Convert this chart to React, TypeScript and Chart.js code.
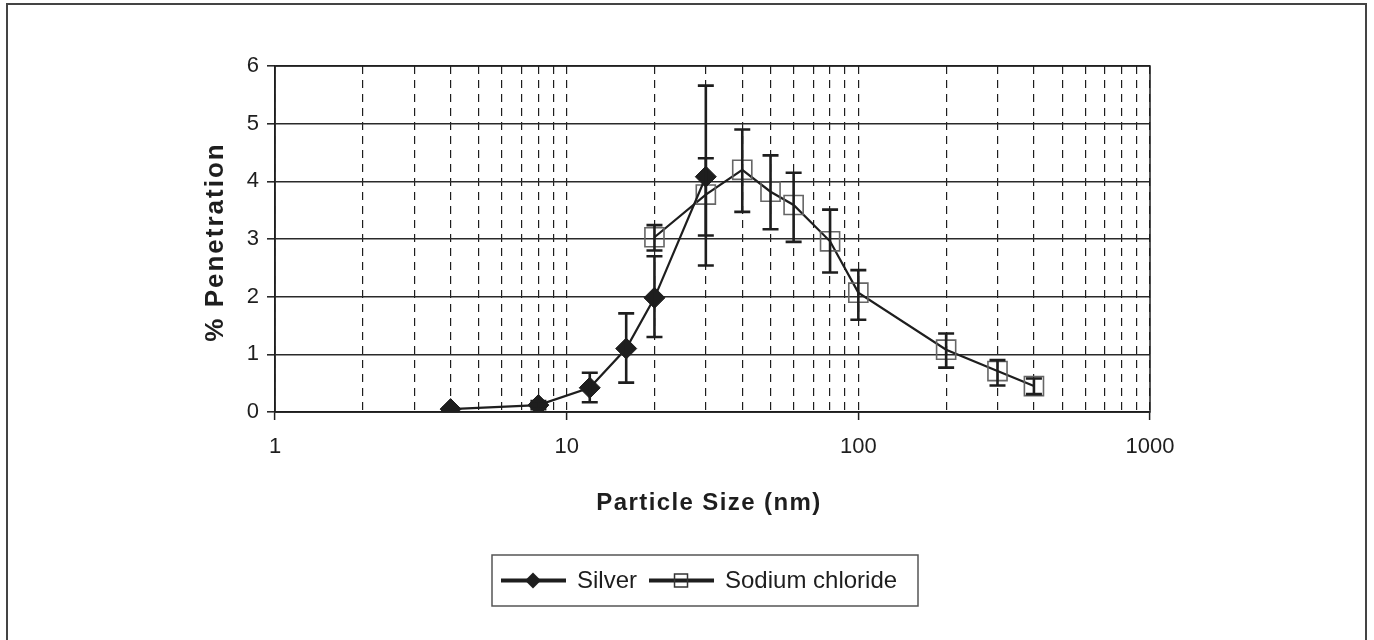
import React, { useEffect, useRef } from "react";
import { Chart, registerables } from "chart.js";

Chart.register(...registerables);

// ---- Data ----
const silverSize = [4, 8, 12, 16, 20, 30];
const silverPen = [0.05, 0.12, 0.42, 1.1, 1.98, 4.08];
const silverLow = [0.02, 0.05, 0.17, 0.51, 1.3, 2.54];
const silverHigh = [0.08, 0.19, 0.68, 1.71, 2.7, 5.66];

const naclSize = [20, 30, 40, 50, 60, 80, 100, 200, 300, 400];
const naclPen = [3.03, 3.77, 4.2, 3.82, 3.59, 2.96, 2.07, 1.08, 0.71, 0.45];
const naclLow = [2.8, 3.06, 3.47, 3.17, 2.95, 2.42, 1.6, 0.77, 0.46, 0.31];
const naclHigh = [3.24, 4.4, 4.9, 4.45, 4.15, 3.51, 2.46, 1.36, 0.9, 0.58];

const xMajorTicks = [1, 10, 100, 1000];
const xGridTicks = [
  1, 2, 3, 4, 5, 6, 7, 8, 9, 10, 20, 30, 40, 50, 60, 70, 80, 90, 100, 200,
  300, 400, 500, 600, 700, 800, 900, 1000,
];
const yTicks = [0, 1, 2, 3, 4, 5, 6];
const seriesLabels = ["Silver", "Sodium chloride"];
const xTitle = "Particle Size (nm)";
const yTitle = "% Penetration";

const errLow = [silverLow, naclLow];
const errHigh = [silverHigh, naclHigh];

const W = 1374;
const H = 640;
const FONT = "'Liberation Sans', Arial, Helvetica, sans-serif";
const INK = "#1e1e1e";

const framePlugin = {
  id: "frame",
  beforeDraw(chart: any) {
    const ctx = chart.ctx;
    ctx.save();
    ctx.fillStyle = "#ffffff";
    ctx.fillRect(0, 0, chart.width, chart.height);
    ctx.strokeStyle = "#444";
    ctx.lineWidth = 2;
    ctx.strokeRect(7, 4, 1359, 700);
    ctx.restore();
  },
  beforeDatasetsDraw(chart: any) {
    const { ctx, chartArea } = chart;
    ctx.save();
    ctx.strokeStyle = INK;
    ctx.lineWidth = 1.5;
    ctx.strokeRect(
      chartArea.left,
      chartArea.top,
      chartArea.right - chartArea.left,
      chartArea.bottom - chartArea.top
    );
    ctx.restore();
  },
};

const errorBarPlugin = {
  id: "errorBars",
  afterDatasetsDraw(chart: any) {
    const ctx = chart.ctx;
    const xs = chart.scales.x;
    const ys = chart.scales.y;
    ctx.save();
    ctx.strokeStyle = INK;
    ctx.lineWidth = 2.6;
    const cap = 8;
    chart.data.datasets.forEach((ds: any, di: number) => {
      ds.data.forEach((pt: any, i: number) => {
        const px = xs.getPixelForValue(pt.x);
        const y1 = ys.getPixelForValue(errLow[di][i]);
        const y2 = ys.getPixelForValue(errHigh[di][i]);
        ctx.beginPath();
        ctx.moveTo(px, y1);
        ctx.lineTo(px, y2);
        ctx.moveTo(px - cap, y1);
        ctx.lineTo(px + cap, y1);
        ctx.moveTo(px - cap, y2);
        ctx.lineTo(px + cap, y2);
        ctx.stroke();
      });
    });
    ctx.restore();
  },
};

const titlesPlugin = {
  id: "axisTitles",
  afterDraw(chart: any) {
    const { ctx } = chart;
    ctx.save();
    ctx.fillStyle = INK;
    ctx.textAlign = "center";
    ctx.textBaseline = "alphabetic";
    ctx.font = `bold 24px ${FONT}`;
    (ctx as any).letterSpacing = "1.4px";
    ctx.fillText(xTitle, 709, 510);
    ctx.translate(223, 242);
    ctx.rotate(-Math.PI / 2);
    ctx.font = `bold 26px ${FONT}`;
    (ctx as any).letterSpacing = "2px";
    ctx.fillText(yTitle, 0, 0);
    ctx.restore();
  },
};

const legendPlugin = {
  id: "customLegend",
  afterDraw(chart: any) {
    const ctx = chart.ctx;
    const left = 492;
    const top = 555;
    const w = 426;
    const h = 51;
    const cy = top + h / 2;
    ctx.save();
    ctx.strokeStyle = "#555";
    ctx.lineWidth = 1.5;
    ctx.strokeRect(left, top, w, h);
    ctx.font = `24px ${FONT}`;
    ctx.fillStyle = INK;
    ctx.textBaseline = "middle";
    ctx.textAlign = "left";
    let x = left + 9;
    chart.data.datasets.forEach((ds: any, di: number) => {
      ctx.strokeStyle = INK;
      ctx.lineWidth = 4;
      ctx.beginPath();
      ctx.moveTo(x, cy);
      ctx.lineTo(x + 65, cy);
      ctx.stroke();
      const mx = x + 32;
      if (di === 0) {
        ctx.fillStyle = INK;
        ctx.beginPath();
        ctx.moveTo(mx, cy - 8);
        ctx.lineTo(mx + 8, cy);
        ctx.lineTo(mx, cy + 8);
        ctx.lineTo(mx - 8, cy);
        ctx.closePath();
        ctx.fill();
      } else {
        ctx.strokeStyle = "#333";
        ctx.lineWidth = 1.5;
        ctx.strokeRect(mx - 6.5, cy - 6.5, 13, 13);
      }
      x += 65 + 11;
      ctx.fillStyle = INK;
      ctx.fillText(ds.label, x, cy + 1);
      x += ctx.measureText(ds.label).width + 12;
    });
    ctx.restore();
  },
};

export default function App() {
  const canvasRef = useRef<HTMLCanvasElement | null>(null);

  useEffect(() => {
    const canvas = canvasRef.current;
    if (!canvas) return;
    const chart = new Chart(canvas, {
      type: "scatter",
      data: {
        datasets: [
          {
            label: seriesLabels[0],
            data: silverSize.map((x, i) => ({ x, y: silverPen[i] })),
            showLine: true,
            borderColor: INK,
            borderWidth: 2.2,
            tension: 0,
            pointStyle: "rectRot",
            pointRadius: 10.5,
            pointBackgroundColor: INK,
            pointBorderColor: INK,
            pointBorderWidth: 1,
          },
          {
            label: seriesLabels[1],
            data: naclSize.map((x, i) => ({ x, y: naclPen[i] })),
            showLine: true,
            borderColor: INK,
            borderWidth: 2.2,
            tension: 0,
            pointStyle: "rect",
            pointRadius: 13.5,
            pointBackgroundColor: "rgba(0,0,0,0)",
            pointBorderColor: "#666",
            pointBorderWidth: 1.6,
          },
        ],
      },
      options: {
        responsive: false,
        animation: false,
        events: [],
        layout: { padding: { left: 0, right: 224, top: 66, bottom: 168 } },
        plugins: {
          legend: { display: false },
          tooltip: { enabled: false },
        },
        scales: {
          x: {
            type: "logarithmic",
            min: 1,
            max: 1000,
            afterBuildTicks: (s: any) => {
              s.ticks = xGridTicks.map((v) => ({
                value: v,
                major: xMajorTicks.includes(v),
              }));
            },
            afterFit: (s: any) => {
              s.height = 60;
            },
            grid: {
              color: INK,
              lineWidth: 1.2,
              tickLength: 8,
              tickWidth: 1.5,
              tickColor: (c: any) =>
                c.tick && xMajorTicks.includes(c.tick.value)
                  ? INK
                  : "rgba(0,0,0,0)",
            },
            border: { display: true, color: INK, width: 1.5, dash: [8, 6] },
            ticks: {
              autoSkip: false,
              maxRotation: 0,
              padding: 14,
              color: INK,
              font: { family: FONT, size: 22 },
              callback: (v: any) =>
                xMajorTicks.includes(Number(v)) ? String(v) : "",
            },
          },
          y: {
            min: 0,
            max: 6,
            afterBuildTicks: (s: any) => {
              s.ticks = yTicks.map((v) => ({ value: v }));
            },
            afterFit: (s: any) => {
              s.width = 275;
            },
            grid: {
              color: "#2a2a2a",
              lineWidth: 1.6,
              tickLength: 8,
              tickColor: "#2a2a2a",
            },
            border: { display: true, color: INK, width: 1.5 },
            ticks: {
              padding: 8,
              color: INK,
              font: { family: FONT, size: 22 },
              callback: (v: any) => String(v),
            },
          },
        },
      },
      plugins: [framePlugin, errorBarPlugin, titlesPlugin, legendPlugin],
    } as any);
    return () => chart.destroy();
  }, []);

  return (
    <div
      style={{
        position: "fixed",
        left: 0,
        top: 0,
        width: W,
        height: H,
        background: "#fff",
      }}
    >
      <canvas ref={canvasRef} width={W} height={H} style={{ width: W, height: H }} />
    </div>
  );
}
